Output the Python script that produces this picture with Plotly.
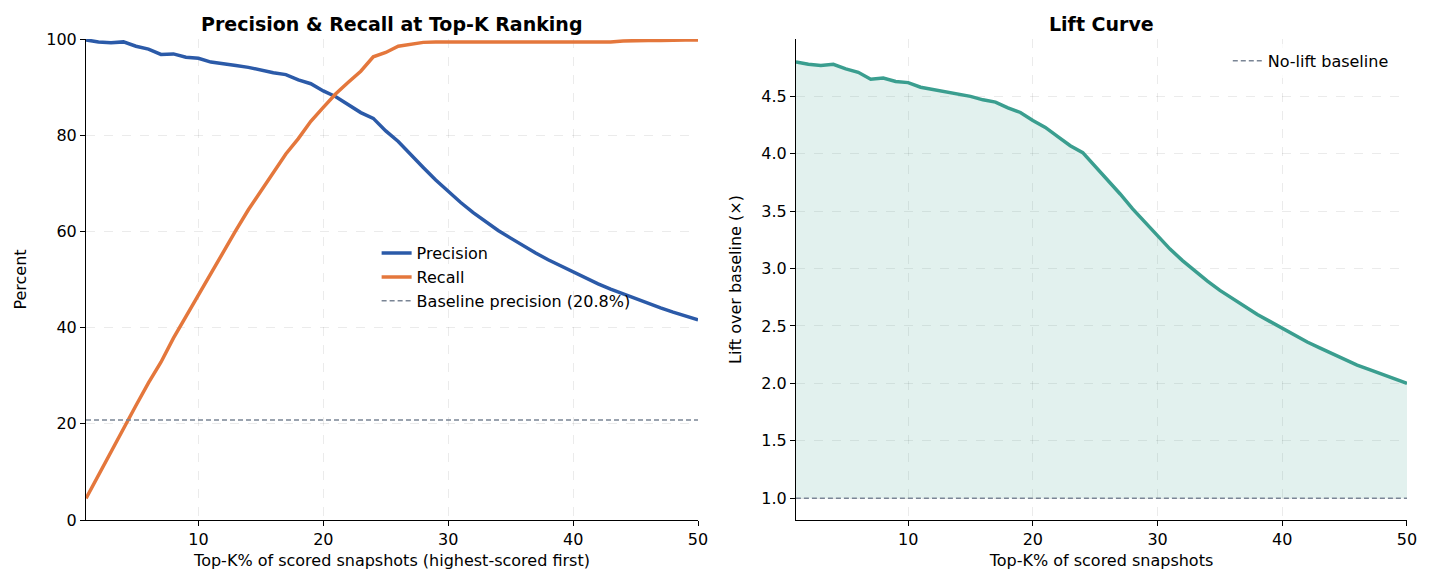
import plotly.graph_objects as go

# ── Data ──────────────────────────────────────────────────────────────────────
top_k = list(range(1, 51))

precision = [99.8, 99.4, 99.2, 99.4, 98.5, 97.9, 96.8, 96.9, 96.2, 96.0,
             95.2, 94.9, 94.5, 94.1, 93.5, 93.0, 92.6, 91.5, 90.7, 89.2,
             88.0, 86.4, 84.7, 83.5, 80.9, 78.7, 75.9, 73.3, 70.7, 68.3,
             66.0, 63.9, 62.0, 60.2, 58.6, 57.0, 55.5, 54.1, 52.8, 51.5,
             50.3, 49.1, 48.0, 47.0, 46.0, 45.0, 44.1, 43.2, 42.4, 41.6]

recall = [4.5, 9.4, 14.2, 19.0, 23.8, 28.5, 32.8, 37.8, 42.3, 47.0,
          51.3, 55.8, 60.2, 64.5, 68.4, 72.3, 76.1, 79.3, 82.9, 85.8,
          88.6, 91.0, 93.3, 96.3, 97.2, 98.5, 98.9, 99.3, 99.4, 99.4,
          99.4, 99.4, 99.4, 99.4, 99.4, 99.4, 99.4, 99.4, 99.4, 99.4,
          99.4, 99.4, 99.4, 99.6, 99.7, 99.7, 99.7, 99.8, 99.8, 99.8]

lift = [4.80, 4.78, 4.77, 4.78, 4.74, 4.71, 4.65, 4.66, 4.63, 4.62,
        4.58, 4.56, 4.54, 4.52, 4.50, 4.47, 4.45, 4.40, 4.36, 4.29,
        4.23, 4.15, 4.07, 4.01, 3.89, 3.78, 3.65, 3.52, 3.40, 3.28,
        3.17, 3.07, 2.98, 2.89, 2.81, 2.74, 2.67, 2.60, 2.54, 2.48,
        2.42, 2.36, 2.31, 2.26, 2.21, 2.16, 2.12, 2.08, 2.04, 2.00]

BASELINE_PRECISION = 20.8
NO_LIFT = 1.0

BLUE   = "#2b5aa8"
ORANGE = "#e4773c"
TEAL   = "#3a9e8f"
GREY   = "#7a8595"

fig = go.Figure()

# ── Left panel ────────────────────────────────────────────────────────────────
fig.add_trace(go.Scatter(x=top_k, y=precision, mode="lines", name="Precision",
                         line=dict(color=BLUE, width=3.5), legend="legend"))
fig.add_trace(go.Scatter(x=top_k, y=recall, mode="lines", name="Recall",
                         line=dict(color=ORANGE, width=3.5), legend="legend"))
fig.add_trace(go.Scatter(x=[top_k[0], top_k[-1]], y=[BASELINE_PRECISION] * 2,
                         mode="lines", name=f"Baseline precision ({BASELINE_PRECISION}%)",
                         line=dict(color=GREY, width=1.5, dash="5px,3px"), legend="legend"))

# ── Right panel ───────────────────────────────────────────────────────────────
fig.add_trace(go.Scatter(x=top_k, y=[NO_LIFT] * len(top_k), mode="lines",
                         line=dict(width=0), showlegend=False, hoverinfo="skip",
                         xaxis="x2", yaxis="y2"))
fig.add_trace(go.Scatter(x=top_k, y=lift, mode="lines", fill="tonexty",
                         fillcolor="rgba(58,158,143,0.15)", showlegend=False,
                         line=dict(color=TEAL, width=3.5), xaxis="x2", yaxis="y2"))
fig.add_trace(go.Scatter(x=[top_k[0], top_k[-1]], y=[NO_LIFT] * 2, mode="lines",
                         name="No-lift baseline", legend="legend2",
                         line=dict(color=GREY, width=1.5, dash="5px,3px"),
                         xaxis="x2", yaxis="y2"))

axis_style = dict(showline=True, linecolor="black", linewidth=1, ticks="outside",
                  ticklen=5, tickcolor="black", showgrid=True,
                  gridcolor="rgba(0,0,0,0.08)", griddash="dash", zeroline=False,
                  tickfont=dict(size=16))

fig.update_layout(
    width=1430, height=585,
    plot_bgcolor="white", paper_bgcolor="white",
    font=dict(family="DejaVu Sans", size=16, color="black"),
    margin=dict(l=76, r=31, t=31, b=73),
    xaxis=dict(domain=[0, 0.4633], range=[1, 50], tickvals=[10, 20, 30, 40, 50],
               title=dict(text="Top-K% of scored snapshots (highest-scored first)",
                          font=dict(size=16), standoff=6), **axis_style),
    yaxis=dict(range=[0, 100], tickvals=[0, 20, 40, 60, 80, 100],
               title=dict(text="Percent", font=dict(size=16)), **axis_style),
    xaxis2=dict(domain=[0.5374, 1], range=[1, 50], tickvals=[10, 20, 30, 40, 50],
                anchor="y2",
                title=dict(text="Top-K% of scored snapshots", font=dict(size=16), standoff=6),
                **axis_style),
    yaxis2=dict(range=[0.81, 5.0], anchor="x2",
                tickvals=[1.0, 1.5, 2.0, 2.5, 3.0, 3.5, 4.0, 4.5], tickformat=".1f",
                title=dict(text="Lift over baseline (×)", font=dict(size=16)), **axis_style),
    legend=dict(x=0.22, y=0.59, xanchor="left", yanchor="top", traceorder="normal",
                bgcolor="rgba(255,255,255,0)", font=dict(size=16)),
    legend2=dict(x=0.99, y=0.99, xanchor="right", yanchor="top",
                 bgcolor="rgba(255,255,255,0.8)", font=dict(size=16)),
    annotations=[
        dict(text="<b>Precision & Recall at Top-K Ranking</b>", x=0.2316, y=1.0,
             xref="paper", yref="paper", xanchor="center", yanchor="bottom", yshift=2,
             showarrow=False, font=dict(size=19)),
        dict(text="<b>Lift Curve</b>", x=0.7687, y=1.0, xref="paper", yref="paper",
             xanchor="center", yanchor="bottom", yshift=2, showarrow=False,
             font=dict(size=19)),
    ],
)

fig.write_html("out.html")
